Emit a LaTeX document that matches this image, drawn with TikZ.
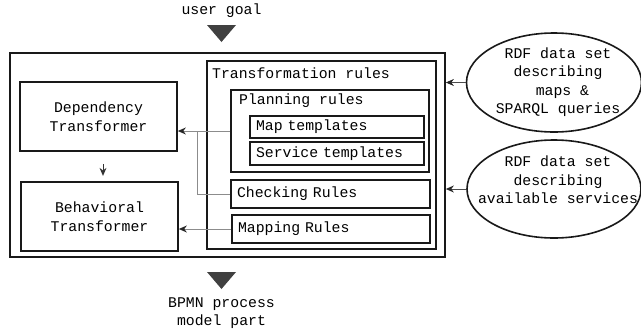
\documentclass[tikz,border=0pt]{standalone}
\usepackage{fontspec}
\setmainfont{Liberation Mono}
\usetikzlibrary{arrows.meta,shapes.geometric,calc}
\begin{document}
\begin{tikzpicture}[x=1pt,y=-1pt,
  every node/.style={font=\fontsize{14.8}{18.5}\selectfont, inner sep=0pt},
  box/.style={draw=black!90, line width=1.7pt, rectangle, inner sep=0pt},
  lbox/.style={box, align=left, inner xsep=6pt, text width=#1},
  lbl/.style={anchor=west},
  ell/.style={draw=black!90, line width=1.6pt, ellipse, inner sep=0pt, align=center},
  conn/.style={draw=black!45, line width=0.9pt, -{Stealth[length=8pt,width=7pt,color=black!85]}},
  econn/.style={draw=black!70, line width=0.9pt, -{Stealth[length=8pt,width=7pt,color=black!85]}},
  tri/.style={fill=black!75, draw=none}
]
\useasboundingbox (0,0) rectangle (641,333);
% outer boxes
\node[box, minimum width=435, minimum height=204] (outer) at (227.5,155) {};
\node[box, minimum width=229, minimum height=188] (trans) at (321.5,155) {};
\node[lbl] (translbl) at (212,73) {Transformation rules};
\node[box, minimum width=198, minimum height=82] (plan) at (330,131) {};
\node[lbl] (planlbl) at (239,100.5) {Planning rules};
\node[lbox=162, minimum height=22] (map) at (337,127) {Map templates};
\node[lbox=162, minimum height=23] (serv) at (337,153.5) {Service templates};
\node[lbox=187, minimum height=28] (check) at (330.5,194) {Checking Rules};
\node[lbox=186, minimum height=28] (mapping) at (331,229) {Mapping Rules};
% transformers
\node[box, minimum width=157, minimum height=69, align=center] (dep) at (98.5,116.5) {Dependency\\Transformer};
\node[box, minimum width=157, minimum height=69, align=center] (beh) at (99.5,216.5) {Behavioral\\Transformer};
% ellipses
\node[ell, minimum width=175, minimum height=99] (ell1) at (554,82.5) {};
\node[align=center] (ell1txt) at (558,82) {RDF data set\\describing\\\phantom{m}maps \&\\SPARQL queries};
\node[ell, minimum width=174, minimum height=98] (ell2) at (554,189) {};
\node[align=center] (ell2txt) at (558,180) {RDF data set\\describing\\available services};
% top and bottom texts
\node (goal) at (221.5,11) {user goal};
\node[align=center] (bpmn) at (221.5,313) {BPMN process\\model part};
\fill[tri] (207,25) -- (236,25) -- (221.5,42) -- cycle;
\fill[tri] (207,272) -- (236,272) -- (221.5,289) -- cycle;
% connectors
\coordinate (junc) at (197.5,0);
\draw[conn] (plan.west) -- (plan.west -| dep.east);
\draw[draw=black!45, line width=0.9pt] (check.west) -| (junc |- plan.west);
\draw[conn] (mapping.west) -- (mapping.west -| beh.east);
\draw[econn] (ell1.west) -- (ell1.west -| outer.east);
\draw[econn] (ell2.west) -- (ell2.west -| outer.east);
\draw[draw=black!80, line width=0.9pt, -{Stealth[length=8pt,width=7pt]}] ($(dep.south)+(4.5,12)$) -- ($(dep.south)+(4.5,24)$);
\end{tikzpicture}
\end{document}
